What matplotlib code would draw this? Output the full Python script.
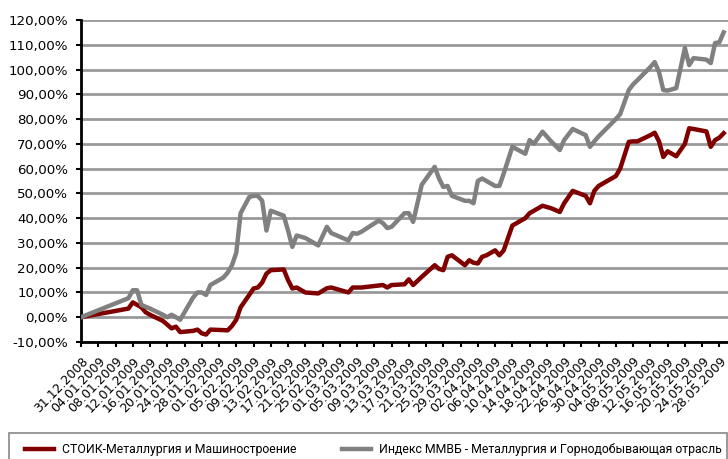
import datetime as dt
import matplotlib
matplotlib.use('Agg')
import matplotlib.pyplot as plt
import matplotlib.dates as mdates
import matplotlib.ticker as mticker
from matplotlib.patches import Rectangle

# dates of the observations
dates = ['31.12.2008', '11.01.2009', '12.01.2009', '13.01.2009', '14.01.2009',
         '15.01.2009', '16.01.2009', '19.01.2009', '20.01.2009', '21.01.2009',
         '22.01.2009', '23.01.2009', '26.01.2009', '27.01.2009', '28.01.2009',
         '29.01.2009', '30.01.2009', '02.02.2009', '03.02.2009', '04.02.2009',
         '05.02.2009', '06.02.2009', '08.02.2009', '09.02.2009', '10.02.2009',
         '11.02.2009', '12.02.2009', '13.02.2009', '16.02.2009', '17.02.2009',
         '18.02.2009', '19.02.2009', '21.02.2009', '24.02.2009', '26.02.2009',
         '27.02.2009', '03.03.2009', '04.03.2009', '05.03.2009', '06.03.2009',
         '10.03.2009', '11.03.2009', '12.03.2009', '13.03.2009', '16.03.2009',
         '17.03.2009', '18.03.2009', '20.03.2009', '23.03.2009', '24.03.2009',
         '25.03.2009', '26.03.2009', '27.03.2009', '30.03.2009', '31.03.2009',
         '01.04.2009', '02.04.2009', '03.04.2009', '04.04.2009', '06.04.2009',
         '07.04.2009', '08.04.2009', '10.04.2009', '13.04.2009', '14.04.2009',
         '15.04.2009', '17.04.2009', '19.04.2009', '21.04.2009', '22.04.2009',
         '24.04.2009', '27.04.2009', '28.04.2009', '29.04.2009', '30.04.2009',
         '04.05.2009', '05.05.2009', '07.05.2009', '08.05.2009', '09.05.2009',
         '12.05.2009', '13.05.2009', '14.05.2009', '15.05.2009', '16.05.2009',
         '18.05.2009', '20.05.2009', '21.05.2009', '22.05.2009', '25.05.2009',
         '26.05.2009', '27.05.2009', '28.05.2009', '29.05.2009']

# СТОИК-Металлургия и Машиностроение, %
stoik = [0.0, 3.5, 6.0, 5.0, 4.0,
         2.0, 1.0, -1.5, -3.0, -4.5,
         -3.8, -6.0, -5.5, -5.0, -6.5,
         -7.0, -5.0, -5.2, -5.3, -3.5,
         -1.0, 4.0, 9.0, 11.6, 12.0,
         14.0, 17.6, 19.0, 19.3, 15.0,
         11.6, 12.0, 10.0, 9.6, 11.7,
         12.0, 10.0, 12.0, 12.0, 12.0,
         12.8, 13.0, 12.0, 13.0, 13.3,
         15.3, 13.0, 16.3, 21.0, 19.5,
         19.0, 24.4, 25.0, 21.0, 23.0,
         22.0, 21.7, 24.4, 25.0, 27.0,
         25.0, 27.0, 37.0, 40.0, 42.0,
         43.0, 45.0, 44.0, 42.5, 46.0,
         51.0, 49.0, 46.0, 51.0, 53.0,
         57.0, 60.0, 70.8, 71.0, 71.0,
         73.5, 74.5, 71.0, 64.7, 67.0,
         65.0, 70.0, 76.3, 76.0, 75.0,
         68.8, 71.5, 72.5, 74.3]

# Индекс ММВБ - Металлургия и Горнодобывающая отрасль, %
micex = [0.0, 7.7, 10.9, 10.9, 5.0,
         4.2, 3.5, 1.0, 0.0, 1.0,
         0.0, -1.0, 8.0, 10.0, 10.0,
         9.0, 13.0, 16.0, 18.0, 21.0,
         26.0, 42.0, 48.5, 49.0, 49.0,
         47.0, 35.0, 43.0, 41.0, 35.0,
         28.4, 33.0, 32.0, 29.0, 36.5,
         34.0, 31.0, 34.0, 33.7, 34.5,
         39.0, 38.0, 36.0, 36.5, 42.0,
         42.0, 38.5, 53.5, 60.7, 56.0,
         52.6, 53.0, 49.0, 47.0, 47.0,
         46.0, 55.0, 56.0, 55.0, 53.0,
         53.0, 58.0, 68.8, 66.0, 71.5,
         70.0, 74.9, 71.0, 67.5, 71.5,
         76.0, 73.5, 68.8, 71.0, 73.0,
         80.0, 82.0, 91.7, 94.0, 95.7,
         101.0, 103.0, 99.0, 91.7, 91.5,
         92.5, 108.7, 101.8, 104.6, 104.0,
         102.6, 110.7, 111.0, 115.0]

names = ['СТОИК-Металлургия и Машиностроение',
         'Индекс ММВБ - Металлургия и Горнодобывающая отрасль']

x = [dt.datetime.strptime(d, '%d.%m.%Y') for d in dates]
start = dt.datetime(2008, 12, 31)
tick_dates = [start + dt.timedelta(days=4 * i) for i in range(38)]

fig = plt.figure(figsize=(7.28, 4.59), dpi=100)
ax = fig.add_axes([81 / 728, 1 - 342 / 459, 1 - 81 / 728, (342 - 20) / 459])

ax.plot(x, stoik, color='#800000', lw=3.2, solid_joinstyle='round', label=names[0], zorder=3)
ax.plot(x, micex, color='#808080', lw=3.2, solid_joinstyle='round', label=names[1], zorder=4)

ax.set_ylim(-10, 120)
ax.set_xlim(start, start + dt.timedelta(days=150))
ax.yaxis.set_major_locator(mticker.MultipleLocator(10))
ax.yaxis.set_major_formatter(mticker.FuncFormatter(lambda v, p: f'{v:.2f}'.replace('.', ',') + '%'))
ax.grid(axis='y', color='#999999', lw=2)
ax.set_axisbelow(True)

ax.set_xticks(tick_dates)
ax.xaxis.set_major_formatter(mdates.DateFormatter('%d.%m.%Y'))
for lbl in ax.get_xticklabels():
    lbl.set_rotation(46)
    lbl.set_ha('right')
    lbl.set_rotation_mode('anchor')
    lbl.set_fontsize(9)

ax.tick_params(axis='y', labelsize=9.6, length=3.8, width=1.5, color='black', pad=5.5)
ax.tick_params(axis='x', length=3.8, width=1.5, color='black', pad=5)

for side in ['top', 'right']:
    ax.spines[side].set_visible(False)
ax.spines['left'].set_linewidth(2)
ax.spines['bottom'].set_linewidth(2)

# legend box at the bottom
fig.add_artist(Rectangle((9 / 728, -0.05), 718 / 728, 0.05 + (459 - 433) / 459,
                         transform=fig.transFigure, fill=False, edgecolor='#888888', lw=1.2))
leg = fig.legend(ncol=2, loc='center left',
                 bbox_to_anchor=(25 / 728, 1 - 450 / 459), frameon=False,
                 prop={'family': ['Roboto', 'DejaVu Sans'], 'size': 8.8},
                 handlelength=2.4, handletextpad=0.65, columnspacing=3.7, borderaxespad=0,
                 borderpad=0)

fig.savefig('out.png', dpi=100)
